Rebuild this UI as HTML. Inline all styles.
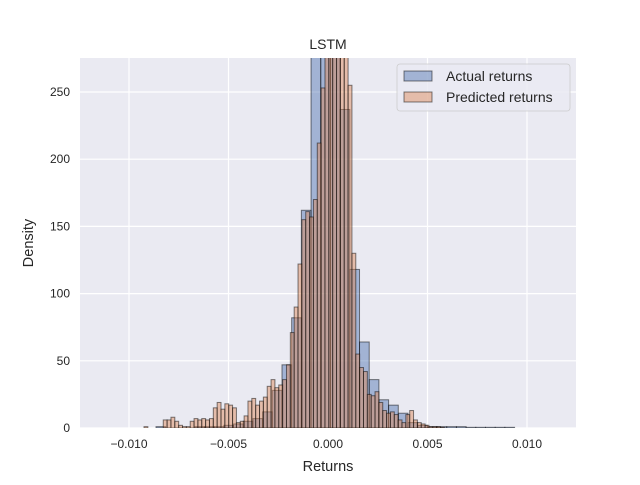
<!DOCTYPE html>
<html><head><meta charset="utf-8"><style>
body{margin:0;background:#fff;font-family:"Liberation Sans","DejaVu Sans",sans-serif;}
svg text{font-family:"Liberation Sans","DejaVu Sans",sans-serif;fill:#262626;}
</style></head><body>
<svg id="chart" width="640" height="480">
<rect x="80" y="58" width="496" height="370" fill="#eaeaf2"/>
<g id="grid"></g>
<g id="bars" clip-path="url(#clip)"></g>
<defs><clipPath id="clip"><rect x="80" y="58" width="496" height="370"/></clipPath></defs>
<g id="ticks"></g>
<text x="328" y="49" font-size="14" text-anchor="middle">LSTM</text>
<text x="328" y="471" font-size="14.5" text-anchor="middle">Returns</text>
<text x="33" y="243" font-size="14.5" text-anchor="middle" transform="rotate(-90 33 243)">Density</text>
<g>
<rect x="397" y="64" width="173" height="47" rx="3" fill="#eaeaf2" fill-opacity="0.8" stroke="#cccccc" stroke-width="0.8"/>
<g>
<rect x="404" y="71" width="28" height="10" fill="rgba(76,114,176,0.45)" stroke="rgba(0,0,0,0.5)"/>
<text x="446" y="81" font-size="14">Actual returns</text></g>
<g>
<rect x="404" y="92" width="28" height="10" fill="rgba(221,132,82,0.45)" stroke="rgba(0,0,0,0.5)"/>
<text x="446" y="102" font-size="14">Predicted returns</text></g>
</g>
</svg>
<script>
const xTicks=[-0.010,-0.005,0.000,0.005,0.010];
const xTickLabels=["−0.010","−0.005","0.000","0.005","0.010"];
const yTicks=[0,50,100,150,200,250];
const actualStart=-0.00913, actualWidth=0.000487;
const actualCounts=[0,1,0,0,0,1,1,1,2,3,5,7,12,28,47,82,162,300,300,300,237,118,64,36,21,17,11,4,2,1,1,1,1,0.5,0.5,0.5,0.5,0.5];
const predStart=-0.009246, predWidth=0.0001935;
const predCounts=[1,0,0,0,0,6,6,8,5,2,1,1,5,7,6,7,6,7,15,19,14,18,17,15,4,5,9,20,22,17,20,23,31,36,30,32,36,47,71,90,122,155,161,157,170,212,253,300,300,300,300,300,300,255,130,55,45,42,25,24,27,19,13,11,12,10,6,4,10,13,6,4,3,2,1,1,1,0.5];
const X=v=>328+v*19900, Y=v=>428-v*1.344;
const ns="http://www.w3.org/2000/svg";
const grid=document.getElementById('grid'),bars=document.getElementById('bars'),ticks=document.getElementById('ticks');
function mk(tag,attrs,parent){const e=document.createElementNS(ns,tag);for(const k in attrs)e.setAttribute(k,attrs[k]);parent.appendChild(e);return e;}
xTicks.forEach((t,i)=>{
 const g=mk('line',{x1:X(t),x2:X(t),y1:58,y2:428,stroke:'#fff','stroke-width':1.2},grid);
 
 
 const tx=mk('text',{x:X(t),y:448,'font-size':12,'text-anchor':'middle'},ticks);
 tx.textContent=xTickLabels[i];
 
 
});
yTicks.forEach(t=>{
 const g=mk('line',{x1:80,x2:576,y1:Y(t),y2:Y(t),stroke:'#fff','stroke-width':1.2},grid);
 
 
 const tx=mk('text',{x:70,y:Y(t)+4,'font-size':12,'text-anchor':'end'},ticks);
 tx.textContent=String(t);
 
 
});
function draw(start,w,counts,fill,name){
 counts.forEach((c,i)=>{
  if(c<=0)return;
  const x0=X(start+i*w),x1=X(start+(i+1)*w);
  const r=mk('rect',{x:x0,y:Y(c),width:x1-x0,height:428-Y(c),fill:fill,stroke:'rgba(0,0,0,0.5)','stroke-width':1},bars);
  
  
 });
}
draw(actualStart,actualWidth,actualCounts,'rgba(76,114,176,0.45)','actual-bar');
draw(predStart,predWidth,predCounts,'rgba(221,132,82,0.45)','predicted-bar');
</script>
</body></html>
